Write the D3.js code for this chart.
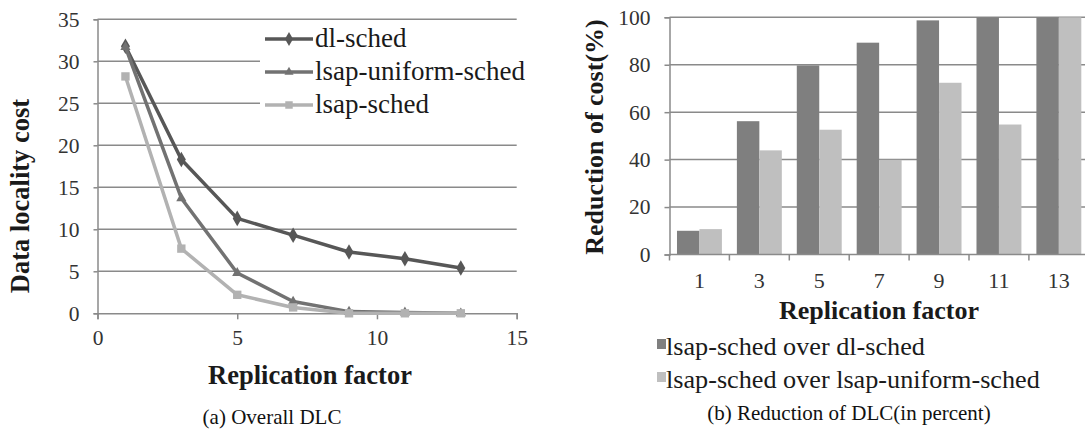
<!DOCTYPE html>
<html>
<head>
<meta charset="utf-8">
<script src="https://cdn.jsdelivr.net/npm/d3@7"></script>
<style>
  body { margin: 0; background: #fff; }
  svg { display: block; font-family: "Liberation Serif", "Times New Roman", serif; }
</style>
</head>
<body>
<svg width="1085" height="431"></svg>
<script>
// data
const replication = [1, 3, 5, 7, 9, 11, 13]
const dlSched = [31.8, 18.3, 11.3, 9.3, 7.3, 6.5, 5.4]
const lsapUniformSched = [31.7, 13.7, 4.8, 1.4, 0.2, 0.1, 0]
const lsapSched = [28.2, 7.7, 2.2, 0.7, 0, 0, 0]
const leftYTicks = [0, 5, 10, 15, 20, 25, 30, 35]
const leftXTicks = [0, 5, 10, 15]

const barCategories = ['1', '3', '5', '7', '9', '11', '13']
const overDlSched = [10, 56.2, 79.7, 89.3, 98.7, 100, 100]
const overUniformSched = [10.7, 43.9, 52.6, 39.9, 72.4, 54.8, 100]
const rightYTicks = [0, 20, 40, 60, 80, 100]

const svg = d3.select('svg')
const serif = '"Liberation Serif", "Times New Roman", serif'
const gridColor = '#8a8a8a'
const tickText = '#333'

// ---------- (a) line chart ----------
const x = d3.scaleLinear().domain([0, 15]).range([97.5, 516.7])
const y = d3.scaleLinear().domain([0, 35]).range([313.3, 19.3])

const left = svg.append('g')

left.selectAll('.grid').data(leftYTicks.filter(d => d > 0))
  .enter().append('line')
    .attr('x1', x(0)).attr('x2', x(15))
    .attr('y1', d => y(d)).attr('y2', d => y(d))
    .attr('stroke', gridColor).attr('stroke-width', 1.5)

const yAxisL = left.append('g')
  .attr('transform', `translate(${x(0)},0)`)
  .call(d3.axisLeft(y).tickValues(leftYTicks).tickSize(4).tickPadding(14))
const xAxisL = left.append('g')
  .attr('transform', `translate(0,${y(0)})`)
  .call(d3.axisBottom(x).tickValues(leftXTicks).tickSize(6).tickPadding(10))

;[yAxisL, xAxisL].forEach(a => {
  a.attr('font-family', serif).attr('font-size', 21.5)
  a.select('.domain').attr('stroke', gridColor).attr('stroke-width', 1.5)
  a.selectAll('.tick line').attr('stroke', gridColor).attr('stroke-width', 1.5)
  a.selectAll('.tick text').attr('fill', tickText)
})

const lineSeries = [
  { name: 'dl-sched', values: dlSched, color: '#575757', marker: d3.symbolDiamond, size: 70 },
  { name: 'lsap-uniform-sched', values: lsapUniformSched, color: '#727272', marker: d3.symbolTriangle, size: 45 },
  { name: 'lsap-sched', values: lsapSched, color: '#b2b2b2', marker: d3.symbolSquare, size: 70 }
]

const line = d3.line().x(d => x(d[0])).y(d => y(d[1]))

lineSeries.forEach(s => {
  const pts = replication.map((r, i) => [r, s.values[i]])
  left.append('path')
    .attr('d', line(pts))
    .attr('fill', 'none')
    .attr('stroke', s.color)
    .attr('stroke-width', 3.5)
    .attr('stroke-linejoin', 'round')
  left.selectAll(null).data(pts)
    .enter().append('path')
      .attr('d', d3.symbol().type(s.marker).size(s.size))
      .attr('transform', d => `translate(${x(d[0])},${y(d[1])})`)
      .attr('fill', s.color)
})

// legend with white background over the grid
left.append('rect')
  .attr('x', 260).attr('y', 24).attr('width', 275).attr('height', 95)
  .attr('fill', '#fff')

const legL = left.selectAll('.legL').data(lineSeries)
  .enter().append('g')
    .attr('transform', (d, i) => `translate(265,${39 + i * 33})`)
legL.append('line')
  .attr('x1', 0).attr('x2', 48)
  .attr('stroke', d => d.color).attr('stroke-width', 3.5)
legL.append('path')
  .attr('d', d => d3.symbol().type(d.marker).size(d.size * 0.8)())
  .attr('transform', 'translate(24,0)')
  .attr('fill', d => d.color)
legL.append('text')
  .attr('x', 50).attr('y', 8)
  .attr('font-family', serif)
  .attr('font-size', 27)
  .attr('fill', '#1a1a1a')
  .text(d => d.name)

left.append('text')
  .attr('transform', 'translate(29,196) rotate(-90)')
  .attr('text-anchor', 'middle')
  .attr('font-size', 26.5).attr('font-weight', 'bold')
  .attr('fill', '#1a1a1a')
  .text('Data locality cost')

left.append('text')
  .attr('x', 310).attr('y', 384)
  .attr('text-anchor', 'middle')
  .attr('font-size', 26.5).attr('font-weight', 'bold')
  .attr('fill', '#1a1a1a')
  .text('Replication factor')

left.append('text')
  .attr('x', 272).attr('y', 424)
  .attr('text-anchor', 'middle')
  .attr('font-size', 21)
  .attr('fill', '#111')
  .text('(a) Overall DLC')

// ---------- (b) bar chart ----------
const x0 = d3.scaleBand().domain(barCategories)
  .range([669.5, 669.5 + 7 * 59.9])
  .paddingInner(0.25).paddingOuter(0.125)
const barSeries = [
  { name: 'lsap-sched over dl-sched', values: overDlSched, color: '#7f7f7f' },
  { name: 'lsap-sched over lsap-uniform-sched', values: overUniformSched, color: '#bfbfbf' }
]
const x1 = d3.scaleBand().domain(barSeries.map(s => s.name)).range([0, x0.bandwidth()])
const yR = d3.scaleLinear().domain([0, 100]).range([254.5, 17.3])

const right = svg.append('g')
const xEnd = 669.5 + 7 * 59.9

right.selectAll('.grid').data(rightYTicks.filter(d => d > 0))
  .enter().append('line')
    .attr('x1', 669.5).attr('x2', xEnd)
    .attr('y1', d => yR(d)).attr('y2', d => yR(d))
    .attr('stroke', gridColor).attr('stroke-width', 1.5)

barSeries.forEach(s => {
  right.selectAll(null).data(barCategories)
    .enter().append('rect')
      .attr('x', (c, i) => x0(c) + x1(s.name))
      .attr('y', (c, i) => yR(s.values[i]))
      .attr('width', x1.bandwidth())
      .attr('height', (c, i) => yR(0) - yR(s.values[i]))
      .attr('fill', s.color)
})

const yAxisR = right.append('g')
  .attr('transform', 'translate(669.5,0)')
  .call(d3.axisLeft(yR).tickValues(rightYTicks).tickSize(5).tickPadding(14))
yAxisR.attr('font-family', serif).attr('font-size', 21.5)
yAxisR.select('.domain').attr('stroke', gridColor).attr('stroke-width', 1.5)
yAxisR.selectAll('.tick line').attr('stroke', gridColor).attr('stroke-width', 1.5)
yAxisR.selectAll('.tick text').attr('fill', tickText)

// category axis: line, boundary ticks, centred labels
right.append('line')
  .attr('x1', 669.5).attr('x2', xEnd)
  .attr('y1', yR(0)).attr('y2', yR(0))
  .attr('stroke', gridColor).attr('stroke-width', 1.5)
right.selectAll('.btick').data(barCategories)
  .enter().append('line')
    .attr('x1', c => x0(c) - x0.step() * 0.125)
    .attr('x2', c => x0(c) - x0.step() * 0.125)
    .attr('y1', yR(0)).attr('y2', yR(0) + 6)
    .attr('stroke', gridColor).attr('stroke-width', 1.5)
right.selectAll('.blabel').data(barCategories)
  .enter().append('text')
    .attr('x', c => x0(c) + x0.bandwidth() / 2)
    .attr('y', 288)
    .attr('text-anchor', 'middle')
    .attr('font-family', serif)
    .attr('font-size', 22)
    .attr('fill', tickText)
    .text(c => c)

right.append('text')
  .attr('transform', 'translate(603,137) rotate(-90)')
  .attr('text-anchor', 'middle')
  .attr('font-size', 26).attr('font-weight', 'bold')
  .attr('fill', '#1a1a1a')
  .text('Reduction of cost(%)')

right.append('text')
  .attr('x', 879).attr('y', 319)
  .attr('text-anchor', 'middle')
  .attr('font-size', 26).attr('font-weight', 'bold')
  .attr('fill', '#1a1a1a')
  .text('Replication factor')

const legR = right.selectAll('.legR').data(barSeries)
  .enter().append('g')
    .attr('transform', (d, i) => `translate(657,${355 + i * 33})`)
legR.append('rect')
  .attr('x', 0).attr('y', -16).attr('width', 9).attr('height', 10)
  .attr('fill', d => d.color)
legR.append('text')
  .attr('x', 9).attr('y', 0)
  .attr('font-family', serif)
  .attr('font-size', 26.2)
  .attr('fill', '#1a1a1a')
  .text(d => d.name)

right.append('text')
  .attr('x', 849).attr('y', 420)
  .attr('text-anchor', 'middle')
  .attr('font-size', 21)
  .attr('fill', '#111')
  .text('(b) Reduction of DLC(in percent)')
</script>
</body>
</html>
